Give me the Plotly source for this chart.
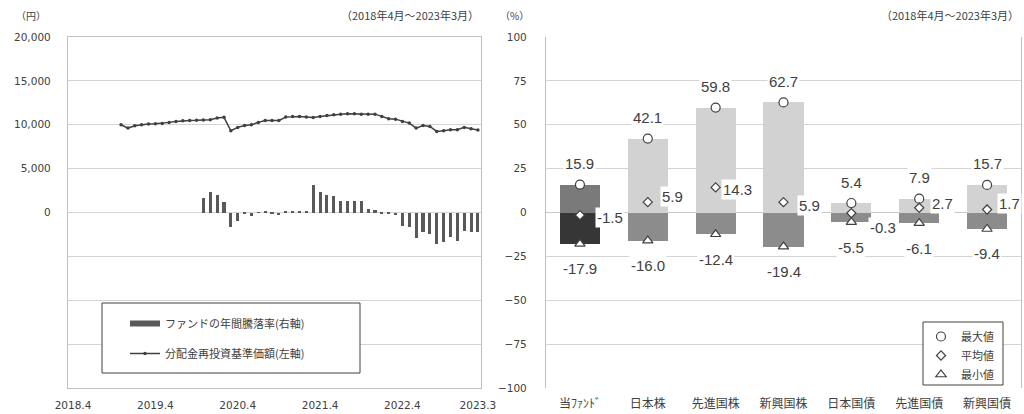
import plotly.graph_objects as go

W, H = 1024, 414
OFF = 0   # page body margin removed by post_script

# ---------------- data: left chart ----------------
x_tick_text = ["2018.4", "2019.4", "2020.4", "2021.4", "2022.4", "2023.3"]
x_tick_idx = [0, 12, 24, 36, 48, 59]          # months since 2018.4

nav_start = 7                                   # 2018.11
nav = [10000, 9620, 9890, 10000, 10080, 10110, 10150, 10270, 10380, 10450,
       10490, 10500, 10530, 10570, 10760, 10850, 9320, 9700, 9920, 10000,
       10270, 10490, 10490, 10490, 10870, 10950, 10950, 10870, 10830, 10950,
       11060, 11140, 11210, 11250, 11250, 11210, 11210, 11210, 10950, 10680,
       10640, 10380, 10190, 9620, 9920, 9810, 9240, 9320, 9430, 9430,
       9700, 9550, 9390]

ret_start = 19                                  # 2019.11
ret = [8.1, 11.7, 9.8, 6.2, -8.5, -4.7, -1.0, -1.9, 0.2, 0.3,
       -0.4, -1.3, 0.5, 0.7, 0.5, 0.9, 15.9, 11.7, 9.8, 9.4,
       6.6, 6.6, 6.6, 6.6, 1.9, 1.3, -0.4, -0.9, -1.3, -7.5,
       -8.5, -14.5, -11.3, -12.2, -17.9, -16.9, -14.2, -16.0, -10.8, -11.3,
       -11.3]

# ---------------- data: right chart ----------------
categories = ["当ﾌｧﾝﾄﾞ", "日本株", "先進国株", "新興国株", "日本国債", "先進国債", "新興国債"]
max_vals = [15.9, 42.1, 59.8, 62.7, 5.4, 7.9, 15.7]
mean_vals = [-1.5, 5.9, 14.3, 5.9, -0.3, 2.7, 1.7]
min_vals = [-17.9, -16.0, -12.4, -19.4, -5.5, -6.1, -9.4]

# label offsets (px) for mean labels: (xshift, yshift)
mean_offsets = [(15, -2), (12, 6), (5, -2), (13, -3), (17, -14), (11, 4), (10, 6)]

# ---------------- styles ----------------
TXT = "#404040"
GRID = "#d4d4d4"
BORDER = "#bfbfbf"
JP = "Noto Sans CJK JP"
NUM = "DejaVu Sans"
LBL = "Liberation Sans"

pos_colors = ["#7a7a7a"] + ["#d2d2d2"] * 6
neg_colors = ["#363636"] + ["#8c8c8c"] * 6


def fx(p):
    return (p - OFF) / W


def fy(p):
    return 1 - (p - OFF) / H


fig = go.Figure()

# ---- left chart ----
nav_x = [nav_start + i for i in range(len(nav))]
ret_x = [ret_start + i for i in range(len(ret))]

fig.add_trace(go.Bar(
    x=ret_x, y=ret, xaxis="x", yaxis="y2", width=0.45,
    marker=dict(color="#595959", line=dict(width=0)),
    name="ファンドの年間騰落率(右軸)", showlegend=False, legendgroup="a"))

# legend proxy for the bars (wide bar swatch like the reference)
fig.add_trace(go.Scatter(
    x=[None], y=[None], xaxis="x", yaxis="y", mode="lines",
    line=dict(color="#595959", width=6),
    name="ファンドの年間騰落率(右軸)", legend="legend", legendgroup="a"))

fig.add_trace(go.Scatter(
    x=nav_x, y=nav, xaxis="x", yaxis="y", mode="lines+markers",
    line=dict(color="#404040", width=1.5),
    marker=dict(color="#404040", size=3.5),
    name="分配金再投資基準価額(左軸)", legend="legend", legendgroup="b"))

# ---- right chart ----
fig.add_trace(go.Bar(
    x=categories, y=max_vals, xaxis="x2", yaxis="y3", width=0.59,
    marker=dict(color=pos_colors, line=dict(width=0)), showlegend=False))
fig.add_trace(go.Bar(
    x=categories, y=min_vals, xaxis="x2", yaxis="y3", width=0.59,
    marker=dict(color=neg_colors, line=dict(width=0)), showlegend=False))

fig.add_trace(go.Scatter(
    x=categories, y=max_vals, xaxis="x2", yaxis="y3", mode="markers",
    marker=dict(symbol="circle", size=9, color="white", line=dict(color=TXT, width=1.2)),
    name="最大値", legend="legend2"))
fig.add_trace(go.Scatter(
    x=categories, y=mean_vals, xaxis="x2", yaxis="y3", mode="markers",
    marker=dict(symbol="diamond", size=7, color="white", line=dict(color=TXT, width=1.2)),
    name="平均値", legend="legend2"))
fig.add_trace(go.Scatter(
    x=categories, y=min_vals, xaxis="x2", yaxis="y3", mode="markers",
    marker=dict(symbol="triangle-up", size=9, color="white", line=dict(color=TXT, width=1.2)),
    name="最小値", legend="legend2"))

annotations = []
for c, v in zip(categories, max_vals):
    annotations.append(dict(x=c, y=v, xref="x2", yref="y3", text=f"{v:.1f}",
                            showarrow=False, yshift=21, bgcolor="white",
                            font=dict(family=LBL, size=15, color=TXT)))
for c, v in zip(categories, min_vals):
    annotations.append(dict(x=c, y=v, xref="x2", yref="y3", text=f"{v:.1f}",
                            showarrow=False, yshift=-25, bgcolor="white",
                            font=dict(family=LBL, size=15, color=TXT)))
for c, v, (dx, dy) in zip(categories, mean_vals, mean_offsets):
    annotations.append(dict(x=c, y=v, xref="x2", yref="y3", text=f"{v:.1f}",
                            showarrow=False, xanchor="left", xshift=dx, yshift=dy,
                            bgcolor="white", font=dict(family=LBL, size=15, color=TXT)))

# header texts
hdr = dict(family=JP, size=11, color=TXT)
annotations += [
    dict(x=fx(14), y=fy(15), xref="paper", yref="paper", text="（円）", showarrow=False,
         xanchor="left", yanchor="middle", font=dict(family=JP, size=10, color=TXT)),
    dict(x=fx(481), y=fy(15), xref="paper", yref="paper", text="（2018年4月～2023年3月）",
         showarrow=False, xanchor="right", yanchor="middle", font=hdr),
    dict(x=fx(498), y=fy(15), xref="paper", yref="paper", text="（%）", showarrow=False,
         xanchor="left", yanchor="middle", font=dict(family=JP, size=10, color=TXT)),
    dict(x=fx(1021), y=fy(15), xref="paper", yref="paper", text="（2018年4月～2023年3月）",
         showarrow=False, xanchor="right", yanchor="middle", font=hdr),
]

shapes = [
    dict(type="rect", xref="paper", yref="paper", x0=fx(102), x1=fx(360), y0=fy(303), y1=fy(373),
         line=dict(color="#404040", width=1), fillcolor="white", layer="above"),
    dict(type="rect", xref="paper", yref="paper", x0=fx(923), x1=fx(1003), y0=fy(322), y1=fy(385),
         line=dict(color="#404040", width=1), fillcolor="white", layer="above"),
]

left_y_vals = [-20000, -15000, -10000, -5000, 0, 5000, 10000, 15000, 20000]
left_y_text = ["", "", "", "", "0", "5,000", "10,000", "15,000", "20,000"]

fig.update_layout(
    width=W, height=H, margin=dict(l=0, r=0, t=0, b=0, pad=0, autoexpand=False),
    paper_bgcolor="white", plot_bgcolor="white",
    barmode="relative", bargap=0,
    font=dict(family=JP, color=TXT),
    xaxis=dict(domain=[fx(68), fx(481)], range=[-0.73, 59.45],
               tickvals=x_tick_idx, ticktext=x_tick_text,
               tickfont=dict(family=NUM, size=10.5, color=TXT),
               ticks="outside", ticklen=7, tickcolor="rgba(0,0,0,0)",
               showgrid=False, zeroline=False, automargin=False,
               showline=True, mirror=True, linecolor=BORDER, linewidth=1.3),
    yaxis=dict(domain=[fy(388), fy(37)], range=[-20000, 20000],
               tickvals=left_y_vals, ticktext=left_y_text,
               tickfont=dict(family=NUM, size=10.5, color=TXT),
               ticks="outside", ticklen=14, tickcolor="rgba(0,0,0,0)",
               showgrid=True, gridcolor=GRID, gridwidth=1.3, zeroline=False, automargin=False,
               showline=True, mirror=True, linecolor=BORDER, linewidth=1.3),
    yaxis2=dict(overlaying="y", range=[-100, 100], visible=False, showgrid=False),
    xaxis2=dict(domain=[fx(546), fx(1021)], anchor="y3", range=[-0.5, 6.5],
                type="category", automargin=False,
                tickfont=dict(family=JP, size=12, color=TXT),
                ticks="outside", ticklen=5, tickcolor="rgba(0,0,0,0)",
                showgrid=False, zeroline=False, showline=False),
    yaxis3=dict(domain=[fy(388), fy(37)], anchor="x2", range=[-100, 100],
                tickvals=[-100, -75, -50, -25, 0, 25, 50, 75, 100],
                tickfont=dict(family=NUM, size=10.5, color=TXT),
                ticks="outside", ticklen=16, tickcolor="rgba(0,0,0,0)",
                showgrid=True, gridcolor=GRID, gridwidth=1.3, automargin=False,
                zeroline=True, zerolinecolor="#c8c8c8", zerolinewidth=1.3,
                showline=True, mirror=True, linecolor=BORDER, linewidth=1.3),
    legend=dict(x=fx(125), y=fy(309), xanchor="left", yanchor="top",
                bgcolor="rgba(0,0,0,0)", borderwidth=0, tracegroupgap=11,
                font=dict(family=JP, size=11, color=TXT), traceorder="grouped"),
    legend2=dict(x=fx(921), y=fy(322), xanchor="left", yanchor="top",
                 bgcolor="rgba(0,0,0,0)", borderwidth=0, tracegroupgap=0,
                 font=dict(family=JP, size=11, color=TXT), itemwidth=30),
    annotations=annotations,
    shapes=shapes,
)

fig.write_html(
    "out.html",
    config={"displayModeBar": False},
    post_script="document.body.style.margin='0';document.body.style.overflow='hidden';",
)
